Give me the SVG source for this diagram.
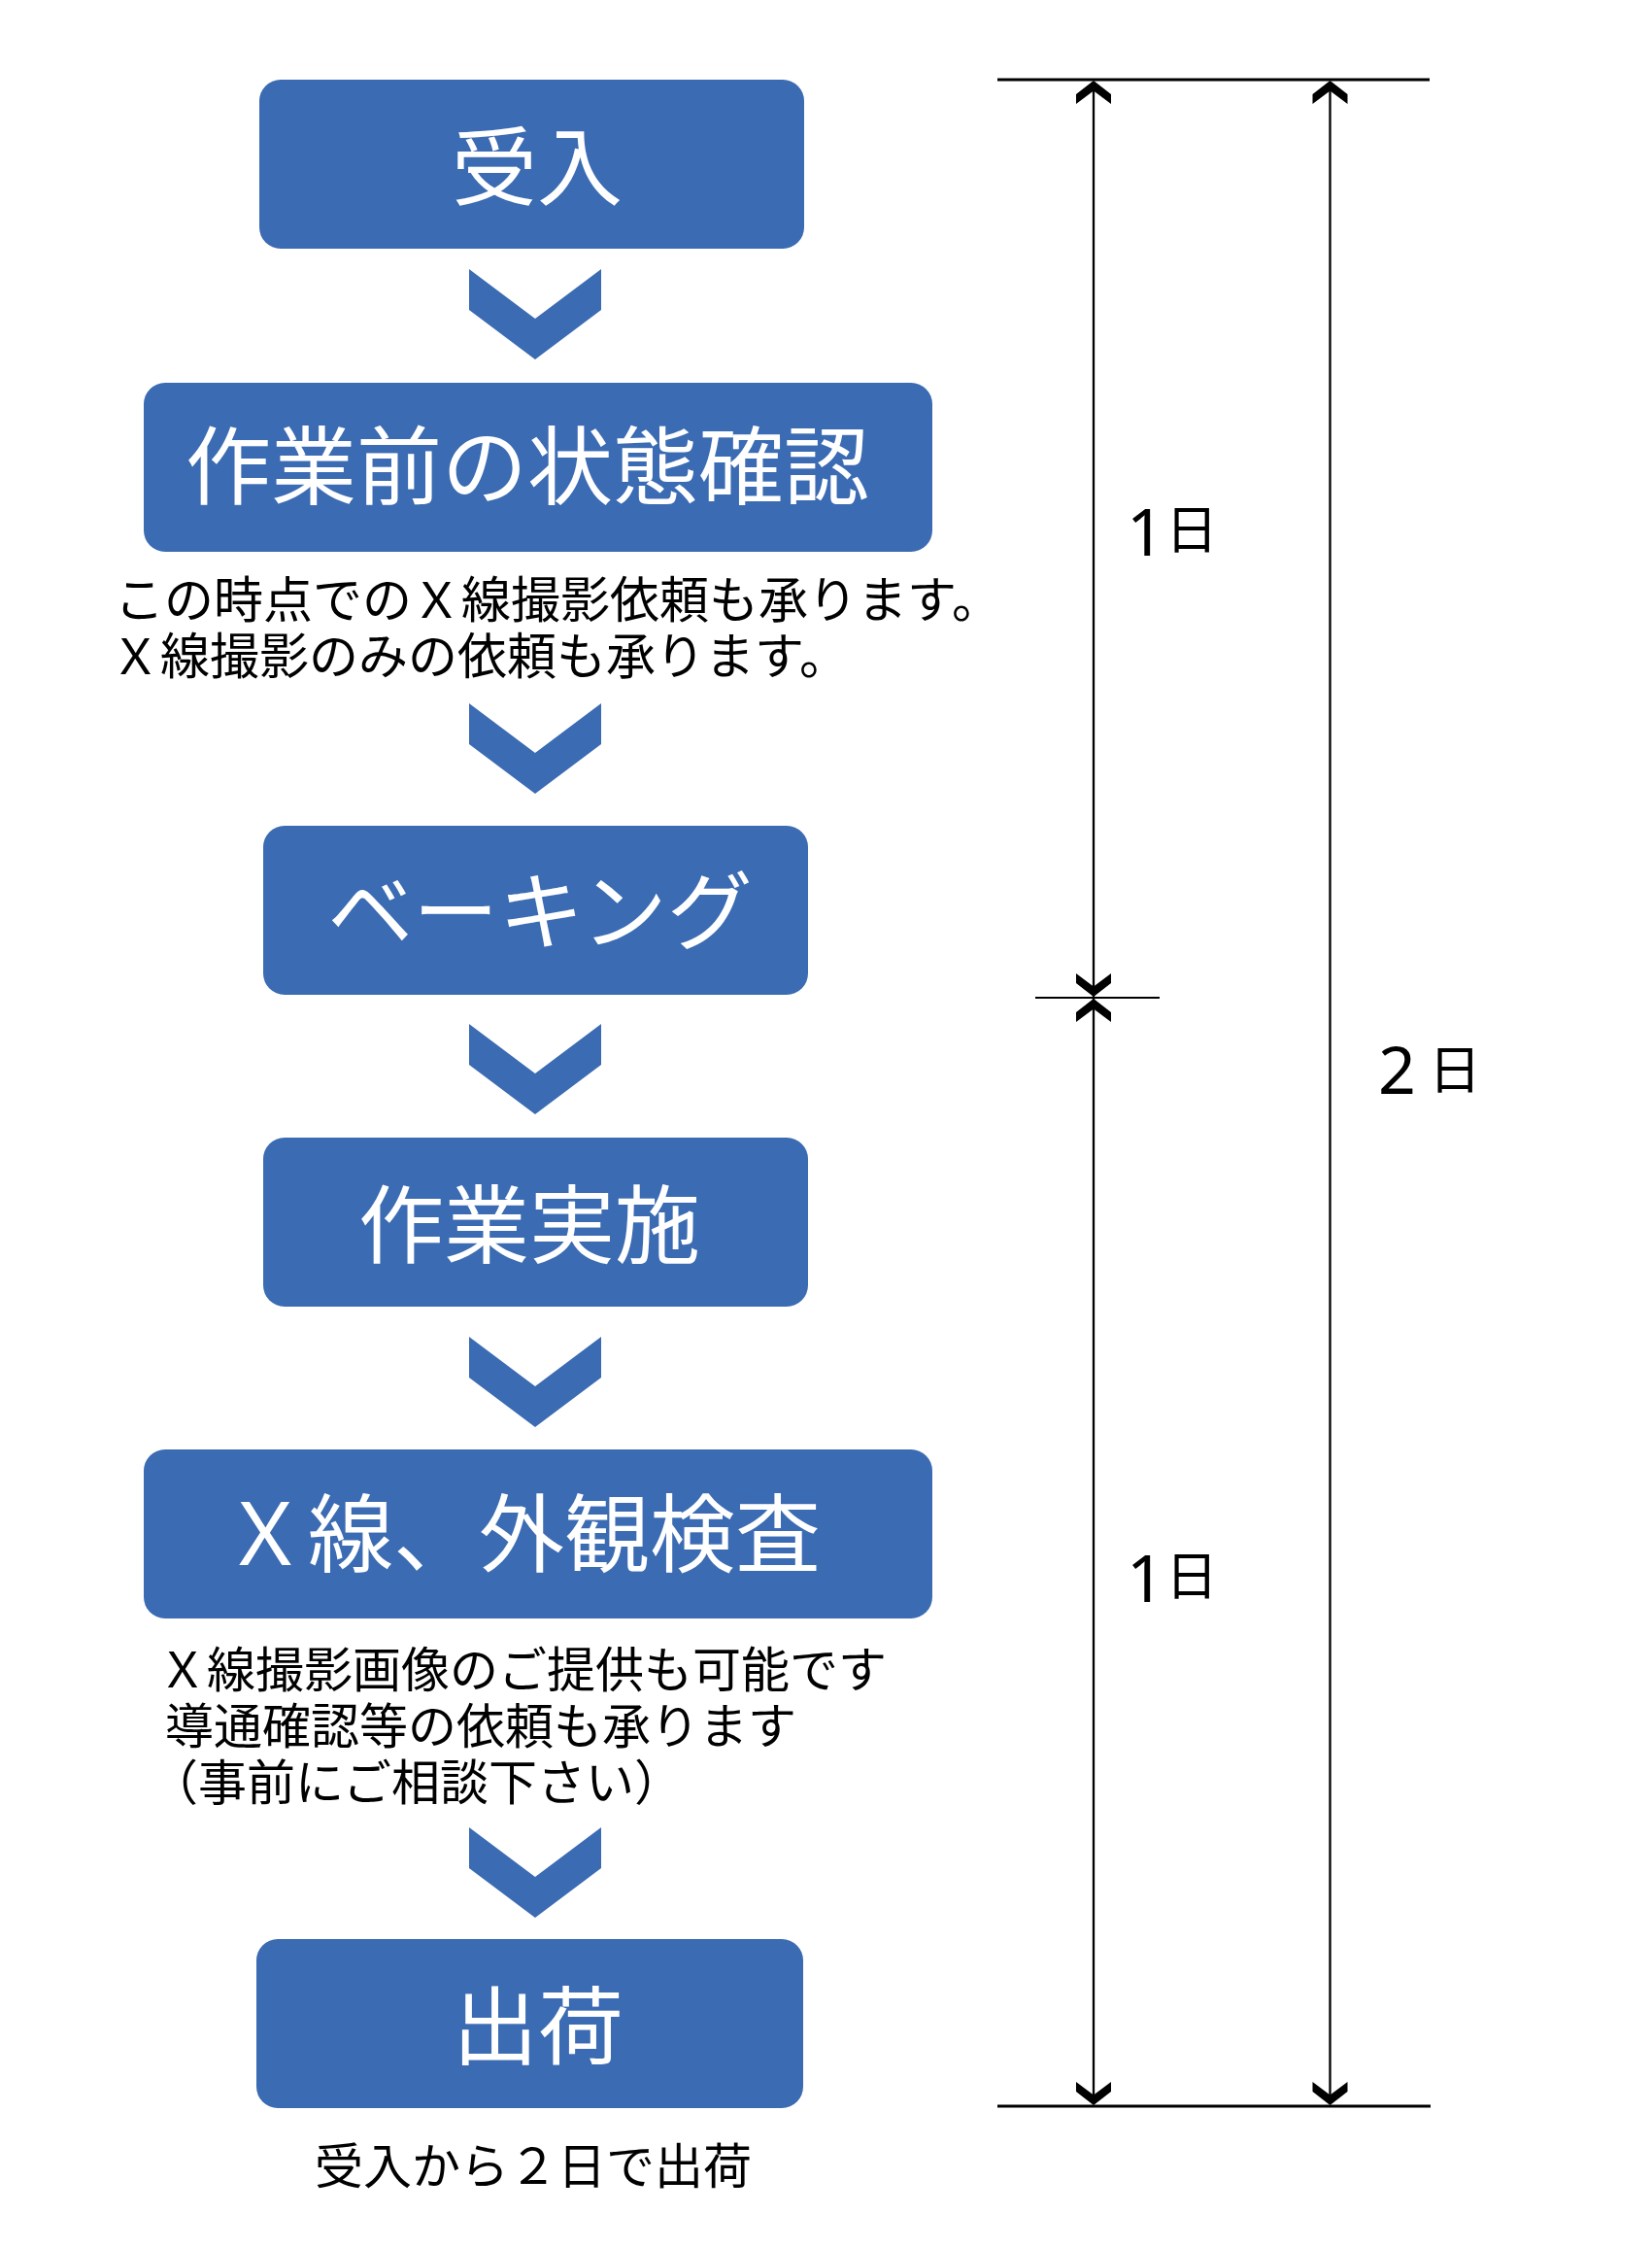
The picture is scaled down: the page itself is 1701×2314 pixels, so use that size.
<svg xmlns="http://www.w3.org/2000/svg" xmlns:xlink="http://www.w3.org/1999/xlink" width="1701" height="2314" viewBox="0 0 1701 2314">
  <style>
    .box { fill: #3B6BB3; }
    .title { fill: #FFFFFF; font-family: "Noto Sans CJK JP", "Noto Sans", sans-serif; font-size: 88px; text-anchor: middle; }
    .note { fill: #000000; font-family: "Noto Sans CJK JP", "Noto Sans", sans-serif; font-size: 50px; }
    .dim { stroke: #000000; fill: none; }
    .lbl { fill: #000000; font-family: "Noto Sans CJK JP", sans-serif; }
    .dig { font-family: "Noto Sans", "Noto Sans CJK JP", sans-serif; font-size: 68px; }
    .kan { font-size: 54px; }
    .chev { fill: #3B6BB3; }
    .ah { fill: #000000; }
  </style>
  <defs>
    <path id="chevron" d="M -68 0 L 0 51 L 68 0 L 68 42 L 0 93 L -68 42 Z"/>
    <path id="ahUp" d="M 0 0 L -18 14 L -18 24 L 0 10.5 L 18 24 L 18 14 Z"/>
    <path id="ahDown" d="M 0 0 L -18 -14 L -18 -24 L 0 -10.5 L 18 -24 L 18 -14 Z"/>
  </defs>
  <rect width="1701" height="2314" fill="#FFFFFF"/>

  <g id="connectors">
    <use xlink:href="#chevron" href="#chevron" class="chev" transform="translate(551,277)"/>
    <use xlink:href="#chevron" href="#chevron" class="chev" transform="translate(551,724)"/>
    <use xlink:href="#chevron" href="#chevron" class="chev" transform="translate(551,1054)"/>
    <use xlink:href="#chevron" href="#chevron" class="chev" transform="translate(551,1376)"/>
    <use xlink:href="#chevron" href="#chevron" class="chev" transform="translate(551,1881)"/>
  </g>

  <g id="node-ukeire">
    <rect class="box" x="267" y="82" width="561" height="174" rx="22" ry="22"/>
    <text class="title" x="553" y="204">受入</text>
  </g>

  <g id="node-kakunin">
    <rect class="box" x="148" y="394" width="812" height="174" rx="22" ry="22"/>
    <text class="title" x="543" y="512">作業前の状態確認</text>
  </g>

  <g id="note-kakunin">
    <text class="note" style="font-size:51px"><tspan x="118" y="636">この時点でのＸ線撮影依頼も承ります。</tspan><tspan x="114" y="694">Ｘ線撮影のみの依頼も承ります。</tspan></text>
  </g>

  <g id="node-baking">
    <rect class="box" x="271" y="850" width="561" height="174" rx="22" ry="22"/>
    <text class="title" x="556" y="970">ベーキング</text>
  </g>

  <g id="node-sagyo">
    <rect class="box" x="271" y="1171" width="561" height="174" rx="22" ry="22"/>
    <text class="title" x="545" y="1293">作業実施</text>
  </g>

  <g id="node-kensa">
    <rect class="box" x="148" y="1492" width="812" height="174" rx="22" ry="22"/>
    <text class="title" x="537" y="1611">Ｘ線、外観検査</text>
  </g>

  <g id="note-kensa">
    <text class="note"><tspan x="163" y="1737">Ｘ線撮影画像のご提供も可能です</tspan><tspan x="170" y="1795">導通確認等の依頼も承ります</tspan><tspan x="154" y="1853">（事前にご相談下さい）</tspan></text>
  </g>

  <g id="node-shukka">
    <rect class="box" x="264" y="1996" width="563" height="174" rx="22" ry="22"/>
    <text class="title" x="554" y="2118">出荷</text>
  </g>

  <g id="note-shukka">
    <text class="note" x="549" y="2248" text-anchor="middle">受入から２日で出荷</text>
  </g>

  <g id="dimensions">
    <line class="dim" x1="1027" y1="82" x2="1472" y2="82" stroke-width="3"/>
    <line class="dim" x1="1027" y1="2168" x2="1473" y2="2168" stroke-width="3"/>
    <line class="dim" x1="1066" y1="1027" x2="1194" y2="1027" stroke-width="2"/>
    <line class="dim" x1="1126" y1="84" x2="1126" y2="2166" stroke-width="2.3"/>
    <line class="dim" x1="1369.5" y1="84" x2="1369.5" y2="2166" stroke-width="2.3"/>
    <use xlink:href="#ahUp" href="#ahUp" class="ah" transform="translate(1126,83)"/>
    <use xlink:href="#ahUp" href="#ahUp" class="ah" transform="translate(1369.5,83)"/>
    <use xlink:href="#ahDown" href="#ahDown" class="ah" transform="translate(1126,1026)"/>
    <use xlink:href="#ahUp" href="#ahUp" class="ah" transform="translate(1126,1028)"/>
    <use xlink:href="#ahDown" href="#ahDown" class="ah" transform="translate(1126,2167)"/>
    <use xlink:href="#ahDown" href="#ahDown" class="ah" transform="translate(1369.5,2167)"/>
  </g>

  <g id="label-day1a">
    <text class="lbl"><tspan class="dig" x="1160" y="572">1</tspan><tspan class="kan" x="1200" y="565">日</tspan></text>
  </g>
  <g id="label-day1b">
    <text class="lbl"><tspan class="dig" x="1160" y="1649">1</tspan><tspan class="kan" x="1200" y="1642">日</tspan></text>
  </g>
  <g id="label-day2">
    <text class="lbl"><tspan class="dig" x="1419" y="1126">2</tspan><tspan class="kan" x="1471" y="1121">日</tspan></text>
  </g>
</svg>
